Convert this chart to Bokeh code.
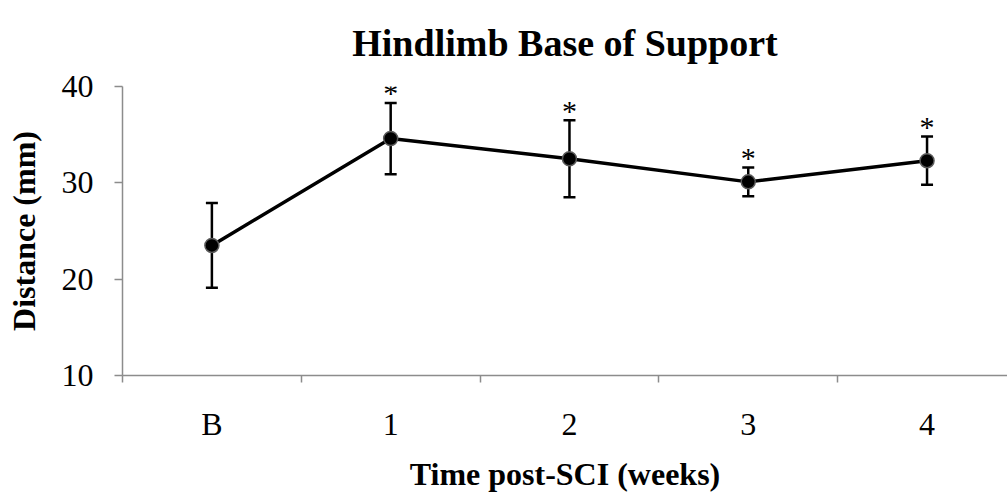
from bokeh.plotting import figure
from bokeh.models import Range1d, FixedTicker, ColumnDataSource, Whisker
from bokeh.core.properties import value
from bokeh.embed import file_html
from bokeh.resources import INLINE

title_text = "Hindlimb Base of Support"
categories = ["B", "1", "2", "3", "4"]
mean_mm = [23.5, 34.6, 32.5, 30.1, 32.3]
err_mm = [4.4, 3.7, 4.0, 1.5, 2.5]
significant = [False, True, True, True, True]
y_ticks = [10, 20, 30, 40]

xs = [i + 0.5 for i in range(len(categories))]
upper = [m + e for m, e in zip(mean_mm, err_mm)]
lower = [m - e for m, e in zip(mean_mm, err_mm)]
src = ColumnDataSource(dict(x=xs, y=mean_mm, upper=upper, lower=lower))
star_src = ColumnDataSource(dict(
    x=[x for x, s in zip(xs, significant) if s],
    y=[u for u, s in zip(upper, significant) if s],
    t=["*" for s in significant if s],
))

FONT = "Liberation Serif"
AXIS_COLOR = "#8c8c8c"

p = figure(width=1007, height=498, output_backend="svg", toolbar_location=None,
           x_range=Range1d(0, 4.95), y_range=Range1d(10, 40),
           min_border_left=122, min_border_right=0, min_border_top=86,
           min_border_bottom=123)
p.outline_line_color = None
p.grid.grid_line_color = None
p.background_fill_color = "white"

p.title.text = title_text
p.title.align = "center"
p.title.vertical_align = "top"
p.title.text_font = FONT
p.title.text_font_style = "bold"
p.title.text_font_size = "38px"
p.title.text_color = "black"
p.title.standoff = 41

xa = p.xaxis[0]
xa.ticker = FixedTicker(ticks=xs, minor_ticks=list(range(len(categories) + 1)))
xa.major_label_overrides = {x: c for x, c in zip(xs, categories)}
xa.major_tick_out = 0
xa.major_tick_in = 0
xa.minor_tick_out = 7
xa.minor_tick_in = 0
xa.minor_tick_line_color = AXIS_COLOR
xa.minor_tick_line_width = 1.5
xa.axis_line_color = AXIS_COLOR
xa.axis_line_width = 1.5
xa.major_label_text_font = FONT
xa.major_label_text_font_size = "32px"
xa.major_label_text_color = "black"
xa.major_label_standoff = 23
xa.axis_label = "Time post-SCI (weeks)"
xa.axis_label_text_font = FONT
xa.axis_label_text_font_style = "bold"
xa.axis_label_text_font_size = "32px"
xa.axis_label_text_color = "black"
xa.axis_label_standoff = 11

ya = p.yaxis[0]
ya.ticker = FixedTicker(ticks=y_ticks, minor_ticks=[])
ya.major_tick_out = 8
ya.major_tick_in = 0
ya.major_tick_line_color = AXIS_COLOR
ya.major_tick_line_width = 1.5
ya.axis_line_color = AXIS_COLOR
ya.axis_line_width = 1.5
ya.major_label_text_font = FONT
ya.major_label_text_font_size = "32px"
ya.major_label_text_color = "black"
ya.major_label_standoff = 21
ya.axis_label = "Distance (mm)"
ya.axis_label_text_font = FONT
ya.axis_label_text_font_style = "bold"
ya.axis_label_text_font_size = "32px"
ya.axis_label_text_color = "black"
ya.axis_label_standoff = 17

p.line("x", "y", source=src, line_color="black", line_width=3.5)
w = Whisker(base="x", upper="upper", lower="lower", source=src,
            line_color="black", line_width=2.5)
w.upper_head.size = 12
w.lower_head.size = 12
w.upper_head.line_color = "black"
w.lower_head.line_color = "black"
w.upper_head.line_width = 2.5
w.lower_head.line_width = 2.5
p.add_layout(w)
p.scatter("x", "y", source=src, size=14, marker="circle", fill_color="black",
          line_color="#5a5a5a", line_width=1.5)
p.text("x", "y", text="t", source=star_src, text_font=value(FONT),
       text_font_size="30px", text_align="center", text_baseline="alphabetic",
       y_offset=-10, text_color="black")

open("out.html", "w").write(file_html(p, INLINE))
